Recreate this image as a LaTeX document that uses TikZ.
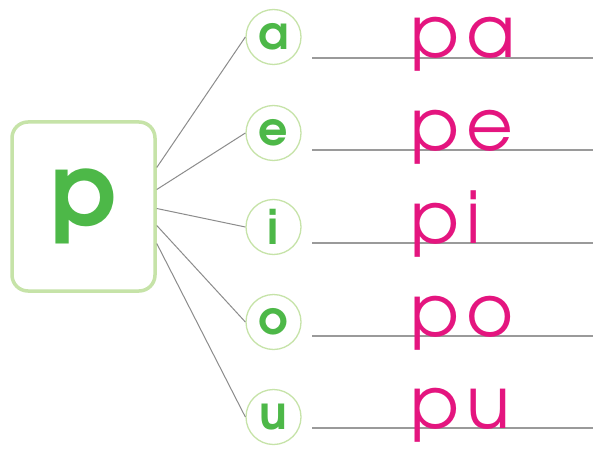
\documentclass[tikz,border=0pt]{standalone}
\usepackage{fontspec}
\newfontfamily\kidfont{texgyreadventor}[Extension=.otf, UprightFont=*-regular, BoldFont=*-bold]
\usetikzlibrary{positioning}
\definecolor{leafgreen}{HTML}{4DB848}
\definecolor{palegreen}{HTML}{C6E3A8}
\definecolor{inkpink}{HTML}{E4157F}
\definecolor{rulegray}{HTML}{9A9A9A}
\definecolor{linkgray}{HTML}{8C8C8C}

\begin{document}
\begin{tikzpicture}[
    x=1pt, y=-1pt,
    letterbox/.style={
        draw=palegreen, line width=3.5pt, rounded corners=16pt,
        minimum width=143pt, minimum height=169pt, inner sep=0pt,
        fill=white, text=leafgreen,
        font=\kidfont\bfseries\fontsize{100}{100}\selectfont
    },
    vowel/.style={
        draw=palegreen, circle, line width=1.3pt,
        minimum size=55pt, inner sep=0pt, fill=white, text=leafgreen,
        font=\kidfont\bfseries\fontsize{46}{46}\selectfont
    },
    syll/.style={
        anchor=base west, inner sep=0pt, text=inkpink,
        font=\kidfont\addfontfeatures{LetterSpace=10}\fontsize{72}{72}\selectfont
    },
    link/.style={draw=linkgray, line width=1pt},
    rule/.style={draw=rulegray, line width=1.6pt}
]
\useasboundingbox[fill=white] (0,0) rectangle (593,449);

\node[letterbox] (cons) at (83.5,206.5) {p};

\node[vowel] (va) at (273.5,37)  {a};
\node[vowel] (ve) at (273.5,133) {e};
\node[vowel] (vi) at (273.5,227) {i};
\node[vowel] (vo) at (273.5,322) {o};
\node[vowel] (vu) at (273.5,417) {u};

\draw[link] ([yshift=39pt]cons.east)  -- (va.west);
\draw[link] ([yshift=17pt]cons.east)  -- (ve.west);
\draw[link] ([yshift=-2pt]cons.east)  -- (vi.west);
\draw[link] ([yshift=-19pt]cons.east) -- (vo.west);
\draw[link] ([yshift=-37pt]cons.east) -- (vu.west);

% writing lines
\coordinate (la) at (312,58);  \coordinate (la end) at (593,58);
\coordinate (le) at (312,150); \coordinate (le end) at (593,150);
\coordinate (li) at (312,243); \coordinate (li end) at (593,243);
\coordinate (lo) at (312,336); \coordinate (lo end) at (593,336);
\coordinate (lu) at (312,428); \coordinate (lu end) at (593,428);
\draw[rule] (la) -- (la end);
\draw[rule] (le) -- (le end);
\draw[rule] (li) -- (li end);
\draw[rule] (lo) -- (lo end);
\draw[rule] (lu) -- (lu end);

\node[syll] (pa) at (410,58)  {pa};
\node[syll] (pe) at (410,150) {pe};
\node[syll] (pi) at (410,243) {pi};
\node[syll] (po) at (410,336) {po};
\node[syll] (pu) at (410,428) {pu};

\end{tikzpicture}
\end{document}
